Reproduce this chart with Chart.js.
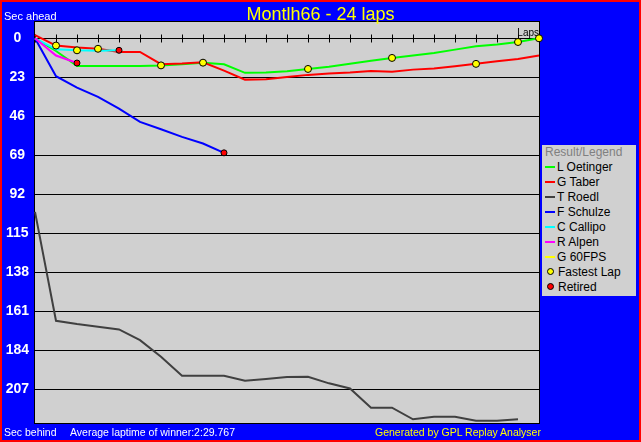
<!DOCTYPE html>
<html>
<head>
<meta charset="utf-8">
<script src="https://cdn.jsdelivr.net/npm/chart.js@4.4.0/dist/chart.umd.min.js"></script>
<style>
  body { margin: 0; }
  #wrap { position: relative; width: 641px; height: 442px; background: #0000ff; overflow: hidden;
          font-family: "Liberation Sans", Arial, sans-serif; }
  #graph { position: absolute; left: 0; top: 0; }
  .txt { position: absolute; white-space: nowrap; font-size: 11px; line-height: 12px; }
  .foot { font-size: 10.5px; }
  #title { position: absolute; left: 0; width: 641px; top: 3px; text-align: center; color: #ffff00;
           font-size: 18px; line-height: 22px; }
  #legend { position: absolute; left: 542px; top: 145px; width: 94px; height: 151px; background: #d0d0d0;
            font-size: 12px; }
  #legend div { height: 15px; line-height: 15px; padding-left: 3px; white-space: nowrap; }
  #legend .sw { display: inline-block; width: 10px; height: 2px; vertical-align: middle; margin-right: 2px; margin-top: -2px; }
  #legend .dot { display: inline-block; width: 5px; height: 5px; border: 1px solid #000; border-radius: 50%;
                 vertical-align: middle; margin: -2px 4px 0 2px; }
  #frame { position: absolute; left: 0; top: 0; width: 641px; height: 442px; box-sizing: border-box;
           border: 2px solid #ff0000; pointer-events: none; }
</style>
</head>
<body>
<div id="wrap">
  <canvas id="graph" width="641" height="442"></canvas>
  <div id="title">Montlh66 - 24 laps</div>
  <div class="txt" style="left:4px; top:10px; color:#fff;">Sec ahead</div>
  <div class="txt foot" style="left:4px; top:426px; color:#fff;">Sec behind</div>
  <div class="txt foot" style="left:70px; top:426px; color:#fff;">Average laptime of winner:2:29.767</div>
  <div class="txt foot" style="left:375px; top:426px; color:#ffff00;">Generated by GPL Replay Analyser</div>
  <div id="legend"></div>
  <div id="frame"></div>
</div>
<script>
// laps on the x axis
var laps = [0, 1, 2, 3, 4, 5, 6, 7, 8, 9, 10, 11, 12, 13, 14, 15, 16, 17, 18, 19, 20, 21, 22, 23, 24];
var yTicks = [0, 23, 46, 69, 92, 115, 138, 161, 184, 207];

// seconds behind, one value per lap
var oetinger = [0, 7.5, 16.3, 16.3, 16.3, 16.3, 16, 15.3, 14.4, 15.3, 20.4, 20.2, 19.5, 18.1, 16.8, 15.0, 13.3, 11.6, 10.2, 8.7, 6.7, 4.7, 3.7, 2.2, 0];
var taber    = [-1.8, 4.3, 5.5, 6.2, 8.1, 8.1, 15.3, 14.9, 14.2, 19.1, 24.4, 24.2, 22.8, 21.6, 20.8, 20.2, 19.3, 19.7, 18.5, 17.9, 16.5, 15.1, 13.6, 12.2, 10.2];
var roedl    = [102.4, 166.7, 168.6, 170.2, 171.8, 178.1, 187.9, 199.1, 199.1, 199.1, 202.1, 201.1, 199.9, 199.7, 203.6, 206.6, 218, 218, 224.8, 223.3, 223.3, 225.6, 225.6, 224.8];
var schulze  = [0, 22.4, 29.1, 34.6, 41.5, 49.3, 53.7, 58.2, 62.1, 67.6];
var callipo  = [0, 6.5, 7.1, 7.3, 7.1];
var alpen    = [0, 10.2, 14.6];
var g60fps   = [];

var drivers = ['L Oetinger', 'G Taber', 'T Roedl', 'F Schulze', 'C Callipo', 'R Alpen', 'G 60FPS'];
var colors  = ['#00ff00', '#ff0000', '#404040', '#0000ff', '#00ffff', '#ff00ff', '#ffff00'];
var series  = [oetinger, taber, roedl, schulze, callipo, alpen, g60fps];

// laps where a driver set a fastest lap, and who retired
var fastLaps = [[6, 8, 13, 17, 23, 24], [1, 3, 21], [], [], [2], [], []];
var retired  = [false, false, false, true, true, true, false];

var datasets = [];
var fastPts = [], retPts = [];
series.forEach(function (vals, d) {
  datasets.push({
    label: drivers[d],
    data: vals.map(function (v, i) { return { x: laps[i], y: v }; }),
    borderColor: colors[d],
    borderWidth: 2,
    pointRadius: 0,
    tension: 0,
    order: 10 - d,
    clip: false
  });
  fastLaps[d].forEach(function (l) { fastPts.push({ x: laps[l], y: vals[l] }); });
  if (retired[d]) retPts.push({ x: laps[vals.length - 1], y: vals[vals.length - 1] });
});
datasets.push({ label: 'Retired', data: retPts, showLine: false, pointRadius: 3, pointBackgroundColor: '#ff0000',
                pointBorderColor: '#000', pointBorderWidth: 1, order: 0, clip: false });
datasets.push({ label: 'Fastest Lap', data: fastPts, showLine: false, pointRadius: 3.5, pointBackgroundColor: '#ffff00',
                pointBorderColor: '#000', pointBorderWidth: 1, order: 0, clip: false });

var frame = {
  id: 'frame',
  beforeDraw: function (chart) {
    var a = chart.chartArea, ctx = chart.ctx;
    ctx.save();
    ctx.fillStyle = '#d0d0d0';
    ctx.fillRect(a.left, a.top, a.right - a.left, a.bottom - a.top);
    ctx.restore();
  },
  beforeDatasetsDraw: function (chart) {
    var a = chart.chartArea, ctx = chart.ctx;
    var x = chart.scales.x, y0 = Math.round(chart.scales.y.getPixelForValue(0)) + 0.5;
    ctx.save();
    ctx.strokeStyle = '#000';
    ctx.lineWidth = 1;
    ctx.beginPath();
    laps.forEach(function (l) {
      var px = Math.round(x.getPixelForValue(l)) + 0.5;
      ctx.moveTo(px, y0 - 4);
      ctx.lineTo(px, y0 + 4);
    });
    ctx.stroke();
    ctx.strokeRect(a.left - 0.5, a.top - 0.5, a.right - a.left + 1, a.bottom - a.top + 1);
    ctx.fillStyle = '#000';
    ctx.font = '10px "Liberation Sans", Arial, sans-serif';
    ctx.textAlign = 'right';
    ctx.textBaseline = 'alphabetic';
    ctx.fillText('Laps', a.right, y0 - 3);
    ctx.restore();
  }
};

var chart = new Chart(document.getElementById('graph'), {
  type: 'line',
  data: { datasets: datasets },
  options: {
    responsive: false,
    animation: false,
    devicePixelRatio: 1,
    layout: { padding: { left: 0, top: 22, right: 102, bottom: 19 } },
    plugins: { legend: { display: false }, tooltip: { enabled: false }, title: { display: false } },
    scales: {
      x: { type: 'linear', min: 0, max: 24, display: false },
      y: {
        reverse: true, min: -9.6, max: 227,
        afterFit: function (s) { s.width = 35; },
        afterBuildTicks: function (s) { s.ticks = yTicks.map(function (v) { return { value: v }; }); },
        grid: { color: '#000', lineWidth: 1, drawTicks: false },
        border: { display: false },
        ticks: { color: '#fff', padding: 6, crossAlign: 'center',
                 font: { family: '"Liberation Sans", Arial, sans-serif', size: 14, weight: 'bold' } }
      }
    }
  },
  plugins: [frame]
});

// legend built from the chart's datasets
var lg = document.getElementById('legend');
var html = '<div style="color:#808080">Result/Legend</div>';
chart.data.datasets.slice(0, drivers.length).forEach(function (ds) {
  html += '<div><span class="sw" style="background:' + ds.borderColor + '"></span>' + ds.label + '</div>';
});
html += '<div><span class="dot" style="background:#ffff00"></span>Fastest Lap</div>';
html += '<div><span class="dot" style="background:#ff0000"></span>Retired</div>';
lg.innerHTML = html;
</script>
</body>
</html>
